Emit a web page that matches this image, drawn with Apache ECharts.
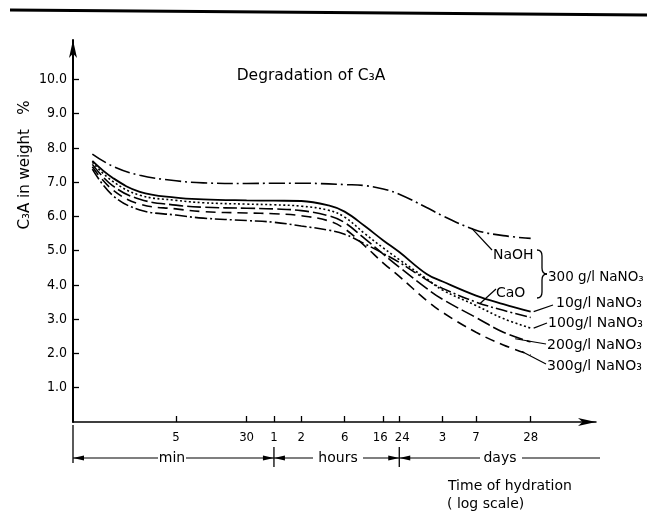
<!DOCTYPE html>
<html>
<head>
<meta charset="utf-8">
<script src="https://cdn.jsdelivr.net/npm/echarts@6/dist/echarts.min.js"></script>
<style>
html, body { margin: 0; background: #fff; }
#chart { width: 647px; height: 513px; }
</style>
</head>
<body>
<div id="chart"></div>
<script>
const NARROW = "'DejaVu Sans Condensed', 'Liberation Sans Narrow', 'DejaVu Sans', sans-serif"
const FONT = "'DejaVu Sans', 'Noto Sans', sans-serif"

// time of hydration in minutes (plotted on a log scale)
const timeMin = [0.6, 1, 2, 5, 10, 30, 60, 120, 240, 360, 600, 960, 1440, 2880, 4320, 10080, 20160, 40320]

// C3A in weight %
const naoh = [7.82, 7.47, 7.2, 7.04, 6.98, 6.96, 6.97, 6.97, 6.95, 6.93, 6.9, 6.8, 6.65, 6.26, 6.02, 5.6, 5.44, 5.36]
const nano3_10 = [7.62, 7.13, 6.72, 6.55, 6.5, 6.47, 6.46, 6.45, 6.32, 6.14, 5.72, 5.3, 4.96, 4.32, 4.1, 3.69, 3.44, 3.22]
const nano3_100 = [7.58, 7.03, 6.62, 6.47, 6.4, 6.36, 6.34, 6.3, 6.18, 5.98, 5.5, 5.08, 4.74, 4.18, 3.85, 3.4, 3.02, 2.74]
const nano3_200 = [7.52, 6.9, 6.5, 6.33, 6.27, 6.24, 6.22, 6.17, 6.02, 5.82, 5.35, 4.9, 4.52, 3.9, 3.58, 3.05, 2.62, 2.34]
const nano3_300 = [7.45, 6.78, 6.36, 6.22, 6.14, 6.1, 6.08, 6.02, 5.87, 5.64, 5.14, 4.64, 4.25, 3.55, 3.2, 2.62, 2.25, 1.96]
const cao = [7.38, 6.62, 6.19, 6.04, 5.95, 5.88, 5.83, 5.72, 5.6, 5.48, 5.2, 4.92, 4.66, 4.15, 3.9, 3.5, 3.26, 3.05]

// x ticks: minutes -> printed label
const xTickMin = [5, 30, 60, 120, 360, 960, 1440, 4320, 10080, 40320]
const xTickLabels = ['5', '30', '1', '2', '6', '{l|16}', '{r|24}', '3', '7', '28']
const yTicks = [1, 2, 3, 4, 5, 6, 7, 8, 9, 10]

const L = Math.log10
const pts = vals => timeMin.map((t, i) => [L(t), vals[i]])

function serie(name, vals, dash, width) {
  return {
    type: 'line',
    name: name,
    data: pts(vals),
    smooth: 0.4,
    symbol: 'none',
    silent: true,
    lineStyle: { color: '#000', width: width || 1.6, type: dash }
  }
}

const chart = echarts.init(document.getElementById('chart'))
chart.setOption({
  animation: false,
  backgroundColor: '#fff',
  grid: { left: 73, right: 51, top: 40, bottom: 91, outerBoundsMode: 'none' },
  xAxis: {
    type: 'value',
    min: -0.435,
    max: 5.325,
    splitLine: { show: false },
    axisLine: {
      onZero: false,
      lineStyle: { color: '#000', width: 1.5 },
      symbol: ['none', 'arrow'],
      symbolSize: [6, 18]
    },
    axisTick: {
      inside: true,
      length: 6,
      customValues: xTickMin.map(L),
      lineStyle: { color: '#000', width: 1.3 }
    },
    axisLabel: {
      customValues: xTickMin.map(L),
      margin: 9,
      color: '#000',
      fontSize: 13,
      fontFamily: NARROW,
      rich: {
        l: { fontSize: 13, fontFamily: NARROW, color: '#000', padding: [0, 6, 0, 0] },
        r: { fontSize: 13, fontFamily: NARROW, color: '#000', padding: [0, 0, 0, 6] }
      },
      formatter: function (v) {
        let best = 0
        xTickMin.forEach((t, i) => {
          if (Math.abs(L(t) - v) < Math.abs(L(xTickMin[best]) - v)) best = i
        })
        return xTickLabels[best]
      }
    }
  },
  yAxis: {
    type: 'value',
    min: 0,
    max: 11.15,
    splitLine: { show: false },
    axisLine: {
      onZero: false,
      lineStyle: { color: '#000', width: 2 },
      symbol: ['none', 'arrow'],
      symbolSize: [6, 18]
    },
    axisTick: {
      inside: true,
      length: 6,
      customValues: yTicks,
      lineStyle: { color: '#000', width: 1.3 }
    },
    axisLabel: {
      customValues: yTicks,
      margin: 6,
      color: '#000',
      fontSize: 14,
      fontFamily: NARROW,
      formatter: v => v.toFixed(1)
    }
  },
  series: [
    serie('NaOH', naoh, [16, 4, 2, 4]),
    serie('10 g/l', nano3_10, 'solid', 1.8),
    serie('100 g/l', nano3_100, [2, 2.5]),
    serie('200 g/l', nano3_200, [14, 4]),
    serie('300 g/l', nano3_300, [10, 6]),
    serie('CaO', cao, [12, 3, 2, 3])
  ]
})

// annotations, anchored on the axes where possible
const px = (t, v) => chart.convertToPixel({ gridIndex: 0 }, [L(t), v])
const last = a => a[a.length - 1]

function line(x1, y1, x2, y2, w) {
  return { type: 'line', shape: { x1, y1, x2, y2 }, style: { stroke: '#000', lineWidth: w || 1.2 } }
}
function curve(x1, y1, cpx1, cpy1, x2, y2) {
  return { type: 'bezierCurve', shape: { x1, y1, cpx1, cpy1, x2, y2 }, style: { stroke: '#000', lineWidth: 1.3, fill: null } }
}
function text(x, y, str, align, size) {
  return {
    type: 'text', x: x, y: y,
    style: { text: str, fill: '#000', fontSize: size || 14, fontFamily: FONT, align: align || 'left', verticalAlign: 'middle' }
  }
}
function arrow(x, y, dir) {
  return {
    type: 'polygon',
    shape: { points: [[x, y], [x - dir * 11, y - 2.5], [x - dir * 11, y + 2.5]] },
    style: { fill: '#000' }
  }
}

const x0 = chart.convertToPixel({ gridIndex: 0 }, [-0.435, 0])[0]
const x1h = px(60, 0)[0]
const x24 = px(1440, 0)[0]
const ry = 458

const e10 = px(last(timeMin), last(nano3_10))
const e100 = px(last(timeMin), last(nano3_100))
const e200 = px(20160 * 1.35, 2.43)
const e300 = px(20160 * 1.6, 2.06)
const aNaoh = px(9000, 5.66)
const aCao = px(11100, 3.45)

const g = [
  line(10, 10, 647, 15, 3),
  text(311, 76, 'Degradation of C₃A', 'center', 15.5),
  {
    type: 'text', x: 25, y: 165, rotation: Math.PI / 2,
    style: { text: 'C₃A in weight   %', fill: '#000', fontSize: 15, fontFamily: FONT, align: 'center', verticalAlign: 'middle' }
  },

  line(aNaoh[0], aNaoh[1], 492, 250),
  text(493, 255, 'NaOH'),
  line(aCao[0], aCao[1], 496, 289),
  text(496, 293, 'CaO'),
  curve(537, 250, 542, 250, 542, 256),
  line(542, 256, 542, 268, 1.3),
  curve(542, 268, 542, 274, 547, 274),
  curve(547, 274, 542, 274, 542, 280),
  line(542, 280, 542, 292, 1.3),
  curve(542, 292, 542, 298, 537, 298),
  text(548, 277, '300 g/l NaNO₃', 'left', 13.5),

  line(e10[0] + 3, e10[1], 553, 305),
  text(556, 303, '10g/l NaNO₃'),
  line(e100[0] + 3, e100[1], 547, 323),
  text(548, 323, '100g/l NaNO₃'),
  line(e200[0], e200[1], 546, 344),
  text(547, 345, '200g/l NaNO₃'),
  line(e300[0], e300[1], 546, 364),
  text(547, 366, '300g/l NaNO₃'),

  // time ranges under the axis
  line(x0, 425, x0, 463, 1.3),
  arrow(x0, ry, -1),
  line(x0, ry, 158, ry),
  text(172, ry, 'min', 'center'),
  line(186, ry, x1h, ry),
  arrow(x1h, ry, 1),
  line(x1h, 447, x1h, 467, 1.3),
  arrow(x1h, ry, -1),
  line(x1h, ry, 313, ry),
  text(338, ry, 'hours', 'center'),
  line(363, ry, x24, ry),
  arrow(x24, ry, 1),
  line(x24, 447, x24, 467, 1.3),
  arrow(x24, ry, -1),
  line(x24, ry, 480, ry),
  text(500, ry, 'days', 'center'),
  line(522, ry, 600, ry),

  text(448, 486, 'Time of hydration'),
  text(447, 504, '( log scale)')
]

chart.setOption({ graphic: g })
</script>
</body>
</html>
